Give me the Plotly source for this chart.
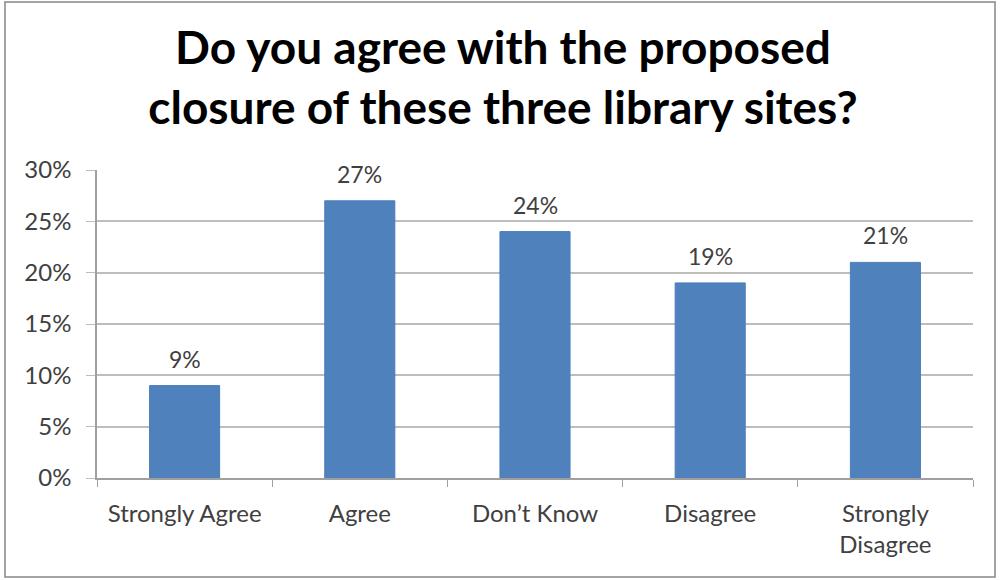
import plotly.graph_objects as go

# Survey responses
categories = ["Strongly Agree", "Agree", "Don\u2019t Know", "Disagree", "Strongly<br>Disagree"]
shares = [9, 27, 24, 19, 21]
tick_vals = [0, 5, 10, 15, 20, 25, 30]
tick_text = [f"{v}%" for v in tick_vals]
title_text = "Do you agree with the proposed<br>closure of these three library sites?"

W, H = 1000, 580
ML, MR, MT, MB = 97, 27, 170, 102
pw, ph = W - ML - MR, H - MT - MB
FONT = "Lato"
TXT = "#404040"

def px_x(p):
    return (p - ML) / pw

def px_y(p):
    return (H - MB - p) / ph

fig = go.Figure(
    go.Bar(
        x=categories,
        y=shares,
        marker=dict(color="#4F81BD", line=dict(color="#4A7EBB", width=1)),
        width=0.4,
        hoverinfo="x+y",
    )
)

# value labels sitting above each bar
labels = [
    dict(
        x=c,
        y=v,
        xref="x",
        yref="y",
        text=f"{v}%",
        showarrow=False,
        yanchor="bottom",
        yshift=11,
        font=dict(family=FONT, size=23, color=TXT),
    )
    for c, v in zip(categories, shares)
]

fig.update_layout(
    width=W,
    height=H,
    margin=dict(l=ML, r=MR, t=MT, b=MB),
    paper_bgcolor="white",
    plot_bgcolor="white",
    showlegend=False,
    annotations=labels,
    title=dict(
        text=title_text,
        x=503 / W,
        xref="container",
        xanchor="center",
        y=1 - 64 / H,
        yanchor="middle",
        font=dict(family=FONT, size=46, color="black", weight="bold"),
    ),
    shapes=[
        dict(
            type="rect",
            xref="paper",
            yref="paper",
            x0=px_x(5),
            x1=px_x(995),
            y0=px_y(577),
            y1=px_y(2),
            line=dict(color="#868686", width=1.5),
            fillcolor="rgba(0,0,0,0)",
            layer="below",
        )
    ],
)

fig.update_xaxes(
    type="category",
    showgrid=False,
    showline=True,
    linecolor="#A0A0A0",
    linewidth=1.5,
    ticks="outside",
    tickson="boundaries",
    ticklen=7,
    tickcolor="#A0A0A0",
    tickfont=dict(family=FONT, size=24, color=TXT),
    ticklabelstandoff=13,
)

fig.update_yaxes(
    range=[0, 30],
    tickvals=tick_vals,
    ticktext=tick_text,
    showgrid=True,
    gridcolor="#BDBDBD",
    gridwidth=1.5,
    showline=True,
    linecolor="#A0A0A0",
    linewidth=1.5,
    ticks="outside",
    ticklen=9,
    tickcolor="#BDBDBD",
    tickfont=dict(family=FONT, size=24, color=TXT),
    ticklabelstandoff=10,
    zeroline=False,
)

fig.write_html("out.html")
